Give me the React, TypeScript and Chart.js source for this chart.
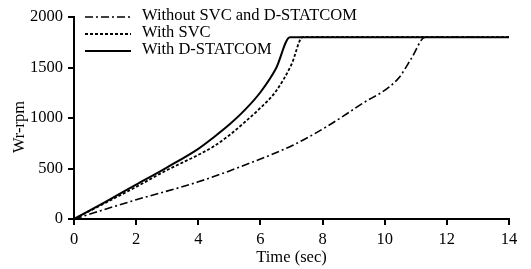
import React, { useEffect, useRef } from "react";
import { Chart, registerables } from "chart.js";

Chart.register(...registerables);

const withoutT = [0, 2, 4, 5.66, 7.06, 8.13, 9.2, 10.44, 10.87, 11.3, 13.2];
const withoutV = [0, 190, 368, 553, 733, 914, 1128, 1392, 1596, 1800, 1800];
const svcT = [0, 1, 2, 3, 4, 4.5, 5, 5.5, 6, 6.5, 7, 7.36, 14];
const svcV = [0, 158, 318, 485, 635, 720, 830, 960, 1100, 1265, 1530, 1800, 1800];
const statT = [0, 1, 2, 3, 4, 4.5, 5, 5.5, 6, 6.5, 6.95, 14];
const statV = [0, 168, 340, 512, 695, 810, 935, 1080, 1255, 1490, 1800, 1800];

const seriesNames = ["Without SVC and D-STATCOM", "With SVC", "With D-STATCOM"];
const xTicks = [0, 2, 4, 6, 8, 10, 12, 14];
const yTicks = [0, 500, 1000, 1500, 2000];
const yTitle = "Wr-rpm";
const xTitle = "Time (sec)";

const FONT = "'Liberation Serif', 'Times New Roman', serif";

const pts = (t: number[], v: number[]) => t.map((x, i) => ({ x, y: v[i] }));

const decorPlugin = {
  id: "decor",
  afterDraw(chart: any) {
    const ctx = chart.ctx;
    const area = chart.chartArea;
    const xs = chart.scales.x;
    const ys = chart.scales.y;
    ctx.save();
    // tick marks
    ctx.strokeStyle = "#000";
    ctx.lineWidth = 2;
    ctx.setLineDash([]);
    ctx.beginPath();
    xTicks.forEach((v) => {
      const px = Math.round(xs.getPixelForValue(v));
      ctx.moveTo(px, area.bottom);
      ctx.lineTo(px, area.bottom + 6);
    });
    yTicks.forEach((v) => {
      const py = Math.round(ys.getPixelForValue(v));
      ctx.moveTo(area.left, py);
      ctx.lineTo(area.left - 6, py);
    });
    ctx.stroke();
    // y title
    ctx.font = `16.5px ${FONT}`;
    ctx.fillStyle = "#000";
    ctx.textAlign = "center";
    ctx.textBaseline = "middle";
    ctx.save();
    ctx.translate(20, 127);
    ctx.rotate(-Math.PI / 2);
    ctx.fillText(yTitle, 0, 0);
    ctx.restore();
    // legend
    const ds = chart.data.datasets;
    ctx.textAlign = "left";
    ds.forEach((d: any, i: number) => {
      const y = area.top + i * 17;
      const x0 = area.left + 11;
      ctx.beginPath();
      ctx.setLineDash(d.borderDash || []);
      ctx.lineWidth = d.borderWidth;
      ctx.strokeStyle = "#000";
      ctx.moveTo(x0, y);
      ctx.lineTo(x0 + 46, y);
      ctx.stroke();
      ctx.setLineDash([]);
      ctx.fillText(d.label, x0 + 57, y - 1);
    });
    ctx.restore();
  },
};

export default function App() {
  const ref = useRef<HTMLCanvasElement>(null);
  useEffect(() => {
    document.body.style.margin = "0";
    const chart = new Chart(ref.current!, {
      type: "line",
      data: {
        datasets: [
          {
            label: seriesNames[0],
            data: pts(withoutT, withoutV),
            borderColor: "#000",
            borderWidth: 1.6,
            borderDash: [8, 3, 2, 3],
            pointRadius: 0,
            cubicInterpolationMode: "monotone",
          },
          {
            label: seriesNames[1],
            data: pts(svcT, svcV),
            borderColor: "#000",
            borderWidth: 1.8,
            borderDash: [3, 2],
            pointRadius: 0,
            cubicInterpolationMode: "monotone",
          },
          {
            label: seriesNames[2],
            data: pts(statT, statV),
            borderColor: "#000",
            borderWidth: 2,
            pointRadius: 0,
            cubicInterpolationMode: "monotone",
          },
        ],
      },
      options: {
        animation: false,
        responsive: false,
        layout: { padding: { top: 17, right: 22, left: 0, bottom: 0 } },
        plugins: { legend: { display: false }, tooltip: { enabled: false } },
        scales: {
          x: {
            type: "linear",
            min: 0,
            max: 14,
            afterBuildTicks: (s: any) => {
              s.ticks = xTicks.map((v) => ({ value: v }));
            },
            afterFit: (s: any) => {
              s.height = 50;
            },
            grid: { display: false, drawOnChartArea: false, tickLength: 6 },
            border: { display: true, color: "#000", width: 2 },
            ticks: {
              color: "#000",
              font: { family: FONT, size: 16.5 },
              padding: 5,
              maxRotation: 0,
              callback: (v: any) => String(v),
            },
            title: {
              display: true,
              text: xTitle,
              color: "#000",
              font: { family: FONT, size: 16.5 },
              padding: { top: 0, bottom: 1 },
            },
          },
          y: {
            type: "linear",
            min: 0,
            max: 2000,
            afterBuildTicks: (s: any) => {
              s.ticks = yTicks.map((v) => ({ value: v }));
            },
            afterFit: (s: any) => {
              s.width = 74;
            },
            grid: { display: false, drawOnChartArea: false, tickLength: 6 },
            border: { display: true, color: "#000", width: 2 },
            ticks: {
              color: "#000",
              font: { family: FONT, size: 16.5 },
              padding: 5,
              callback: (v: any) => String(v),
            },
            title: { display: false },
          },
        },
      },
      plugins: [decorPlugin],
    } as any);
    return () => chart.destroy();
  }, []);
  return (
    <div style={{ width: 531, height: 269, background: "#fff" }}>
      <canvas ref={ref} width={531} height={269} />
    </div>
  );
}
